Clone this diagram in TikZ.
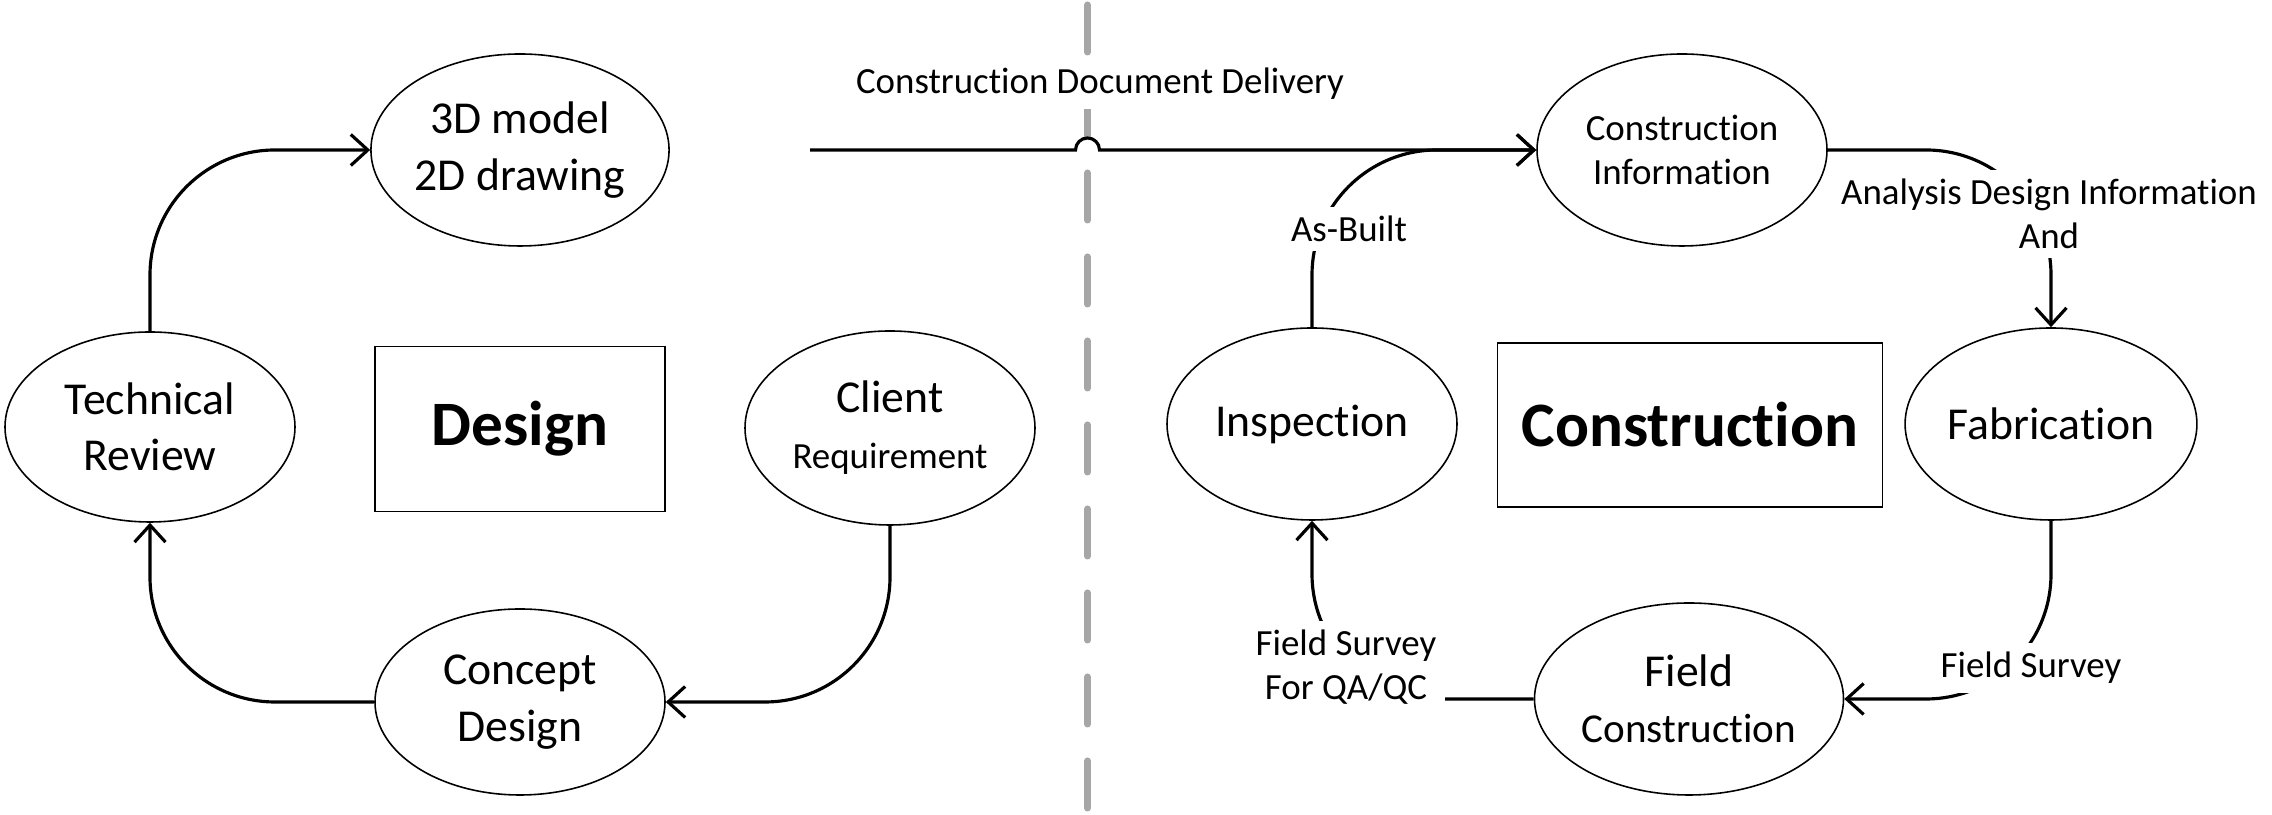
\documentclass[tikz,border=0pt]{standalone}
\usepackage{fontspec}
\setmainfont{Carlito}[Ligatures={NoCommon,NoRequired,NoContextual}]
\usetikzlibrary{arrows.meta,shapes.geometric}
\def\lbl{\fontsize{10.5}{12.5}\selectfont}
\def\midlbl{\fontsize{11.7}{14}\selectfont}
\tikzset{
  stage/.style={ellipse, draw, line width=0.45pt, minimum width=2.9cm, minimum height=1.92cm, inner sep=0pt, align=center, font=\fontsize{13}{16}\selectfont},
  phase/.style={rectangle, draw, line width=0.45pt, inner sep=0pt, font=\fontsize{18}{22}\selectfont\bfseries},
  flow/.style={line width=0.9pt, rounded corners=1.25cm, -{Straight Barb[length=1.7mm,width=3.1mm]}},
  tag/.style={fill=white, align=center, inner sep=2.5pt, font=\lbl}
}

\begin{document}
\begin{tikzpicture}
		%%%%% START %%%%%
		\useasboundingbox (0, 0) rectangle (22.72, 8.15);
		
		\draw[line width=2pt, color=black!35, line cap=round, dash pattern=on 0.47cm off 0.37cm] (10.875, 8.10) -- (10.875, 0);
		
		\node[stage] (model) at (5.20, 6.65) {3D model\\2D drawing};
		\node[stage, minimum height=1.90cm] (review) at (1.50, 3.88) {Technical\\Review};
		\node[phase, minimum width=2.90cm, minimum height=1.65cm] (design) at (5.20, 3.86) {Design};
		\node[stage, minimum height=1.94cm] (client) at (8.90, 3.87) {Client\\{\lbl Requirement}};
		\node[stage, minimum height=1.86cm] (concept) at (5.20, 1.13) {Concept\\Design};
		
		\draw[flow] (review.north) |- (model.west);
		\draw[flow] (client.south) |- (concept.east);
		\draw[flow] (concept.west) -| (review.south);
		
		\node[stage, font=\lbl] (info) at (16.82, 6.65) {Construction\\Information};
		\node[stage] (inspect) at (13.12, 3.91) {Inspection};
		\node[phase, minimum width=3.85cm, minimum height=1.64cm] (build) at (16.90, 3.90) {Construction};
		\node[stage] (fab) at (20.51, 3.91) {Fabrication};
		\node[stage, minimum width=3.09cm] (field) at (16.89, 1.16) {Field\\{\midlbl Construction}};
		
		\coordinate (delivery) at (8.10, 6.65);
		\draw[flow, sharp corners] (delivery) -- (10.755, 6.65) arc (180:0:0.12) -- (info.west);
		\node[tag] (doclabel) at (11.00, 7.31) {Construction Document Delivery};
		
		\draw[flow] (info.east) -| (fab.north);
		\node[tag] (analysis) at (20.49, 6.01) {Analysis Design Information\\And};
		
		\draw[flow] (fab.south) |- (field.east);
		\node[tag] (survey) at (20.31, 1.47) {Field Survey};
		
		\draw[flow] (field.west) -| (inspect.south);
		\node[tag] (qaqc) at (13.46, 1.48) {Field Survey\\For QA/QC};
		
		\draw[flow] (inspect.north) |- (info.west);
		\node[tag] (asbuilt) at (13.49, 5.86) {As-Built};
		
		%%%%% END %%%%%
	\end{tikzpicture}
\end{document}
